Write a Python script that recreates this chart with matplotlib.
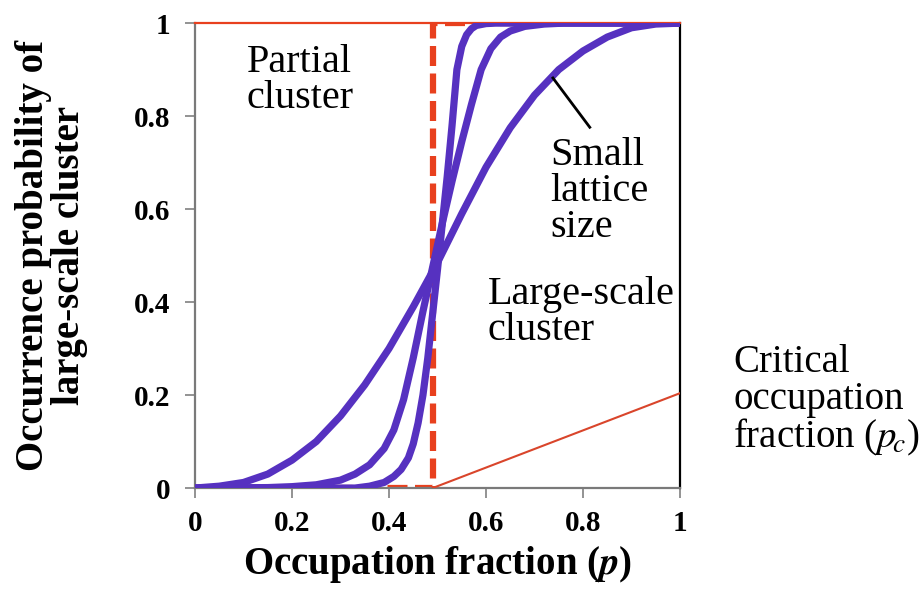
import numpy as np
import matplotlib
matplotlib.use("Agg")
import matplotlib.pyplot as plt

# --- data ---
# widest curve (small lattice)
p_small = [0, 0.05, 0.1, 0.15, 0.2, 0.25, 0.3, 0.35, 0.4, 0.45, 0.5, 0.55, 0.6,
           0.65, 0.7, 0.75, 0.8, 0.85, 0.9, 0.95, 1.0]
y_small = [0, 0.004, 0.012, 0.03, 0.06, 0.1, 0.155, 0.222, 0.3, 0.39, 0.485, 0.59,
           0.69, 0.775, 0.845, 0.9, 0.94, 0.97, 0.99, 0.998, 1.0]
# middle curve
p_mid = [0, 0.15, 0.2, 0.25, 0.3, 0.33, 0.36, 0.39, 0.41, 0.43, 0.45, 0.47, 0.49,
         0.51, 0.53, 0.55, 0.57, 0.59, 0.61, 0.63, 0.65, 0.68, 0.72, 0.76, 1.0]
y_mid = [0, 0.001, 0.003, 0.007, 0.017, 0.03, 0.05, 0.085, 0.125, 0.19, 0.28, 0.38,
         0.475, 0.57, 0.66, 0.745, 0.825, 0.9, 0.945, 0.97, 0.983, 0.993, 0.998,
         1.0, 1.0]
# steepest curve (large lattice)
p_large = [0, 0.33, 0.36, 0.39, 0.41, 0.425, 0.44, 0.45, 0.46, 0.47, 0.48, 0.49,
           0.5, 0.51, 0.52, 0.53, 0.54, 0.55, 0.56, 0.57, 0.58, 0.6, 0.62, 1.0]
y_large = [0, 0, 0.004, 0.012, 0.025, 0.04, 0.065, 0.095, 0.14, 0.2, 0.28, 0.375,
           0.47, 0.57, 0.67, 0.78, 0.9, 0.95, 0.975, 0.988, 0.995, 0.999, 1.0, 1.0]

# infinite lattice step at the critical fraction
p_c = 0.49
p_step = [0, p_c, p_c, 1.0]
y_step = [0, 0, 1, 1]

ticks = [0, 0.2, 0.4, 0.6, 0.8, 1]
tick_labels = ["0", "0.2", "0.4", "0.6", "0.8", "1"]

BLUE = "#5631c0"
RED = "#e8401e"

plt.rcParams["font.family"] = ["Liberation Serif", "DejaVu Serif"]
plt.rcParams["mathtext.fontset"] = "stix"

fig = plt.figure(figsize=(9.23, 5.93), dpi=100)
ax = fig.add_axes([0.2113, 0.177, 0.5254, 0.784])

ax.plot(p_step, y_step, color=RED, lw=4.5, ls=(0, (3.2, 1.2)), zorder=2)
for p, y in [(p_small, y_small), (p_mid, y_mid), (p_large, y_large)]:
    ax.plot(p, y, color=BLUE, lw=5.2, zorder=3, solid_joinstyle="round",
            solid_capstyle="round")

ax.set_xlim(0, 1)
ax.set_ylim(0, 1)
ax.set_xticks(ticks)
ax.set_xticklabels(tick_labels)
ax.set_yticks(ticks)
ax.set_yticklabels(tick_labels)
for lab in ax.get_xticklabels() + ax.get_yticklabels():
    lab.set_fontweight("bold")
    lab.set_fontsize(21)
ax.tick_params(axis="both", direction="out", length=7, width=1.2, color="#808080")
ax.tick_params(axis="x", pad=9)
ax.tick_params(axis="y", pad=11)

ax.spines["left"].set_color("#7a7a7a")
ax.spines["bottom"].set_color("#7a7a7a")
ax.spines["top"].set_color(RED)
ax.spines["right"].set_color("black")
for s in ax.spines.values():
    s.set_linewidth(1.6)

ax.set_xlabel("Occupation fraction ($\\boldsymbol{p}$)", fontsize=28,
              fontweight="bold", labelpad=5)
ax.set_ylabel("Occurrence probability of\nlarge-scale cluster", fontsize=28,
              fontweight="bold", linespacing=0.98)
ax.yaxis.set_label_coords(-0.22, 0.5)

# annotations
ax.text(0.107, 0.955, "Partial\ncluster", fontsize=29, va="top", ha="left",
        linespacing=0.97)
ax.text(0.732, 0.755, "Small\nlattice\nsize", fontsize=29, va="top", ha="left",
        linespacing=0.97)
ax.plot([0.738, 0.814], [0.882, 0.776], color="black", lw=2, zorder=4)
ax.text(0.604, 0.456, "Large-scale\ncluster", fontsize=29, va="top", ha="left",
        linespacing=0.97)
ax.text(1.11, 0.31, "Critical\noccupation\nfraction ($p_{\\!c}$)", fontsize=28,
        va="top", ha="left", linespacing=0.99, clip_on=False)
ax.plot([p_c, 1.0], [0, 0.204], color="#d9452b", lw=1.5, zorder=4)

fig.savefig("out.png", dpi=100)
